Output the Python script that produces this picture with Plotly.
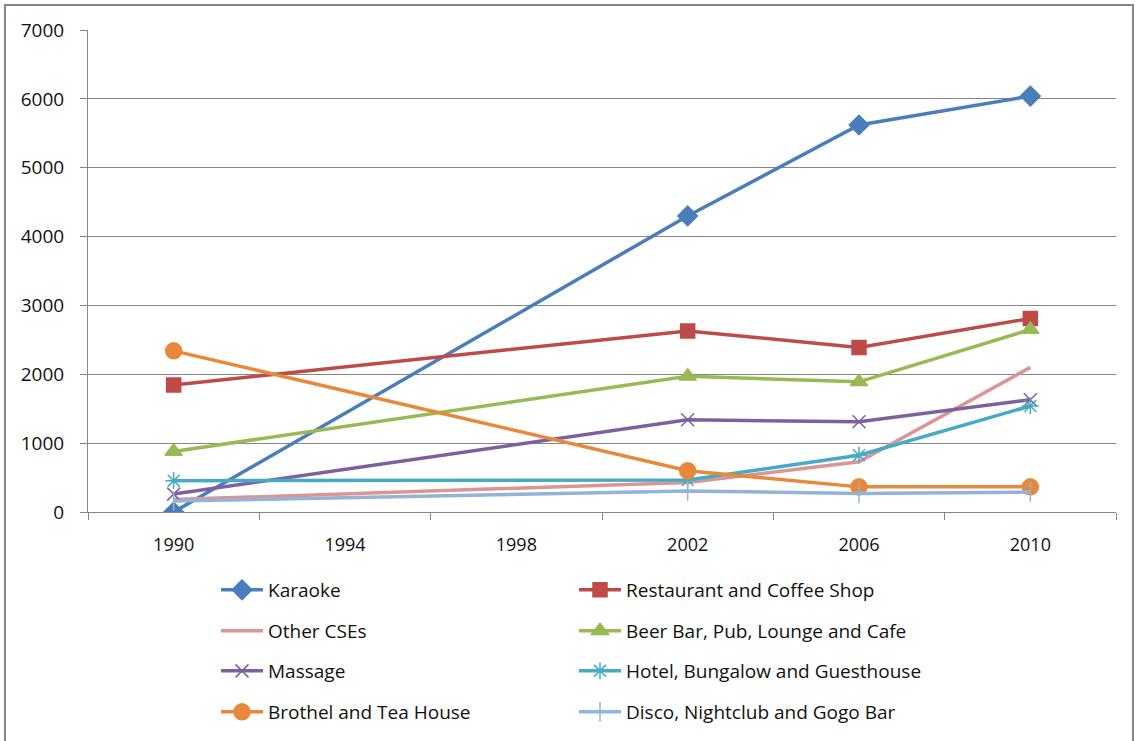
import plotly.graph_objects as go

years = [1990, 2002, 2006, 2010]
tick_years = [1990, 1994, 1998, 2002, 2006, 2010]

karaoke = [0, 4300, 5620, 6040]
restaurant = [1845, 2630, 2390, 2810]
other_cses = [180, 430, 730, 2100]
beer_bar = [880, 1970, 1890, 2650]
massage = [260, 1340, 1310, 1630]
hotel = [455, 465, 825, 1540]
brothel = [2340, 600, 365, 365]
disco = [160, 305, 270, 290]

series = [
    ("Karaoke", karaoke, "#4A7EBB", "diamond", 15, "legend"),
    ("Restaurant and Coffee Shop", restaurant, "#BE4B48", "square", 14, "legend"),
    ("Other CSEs", other_cses, "#D99694", None, 0, "legend2"),
    ("Beer Bar, Pub, Lounge and Cafe", beer_bar, "#98B954", "triangle-up", 15, "legend2"),
    ("Massage", massage, "#7D60A0", "x-thin-open", 13, "legend3"),
    ("Hotel, Bungalow and Guesthouse", hotel, "#46AAC5", "asterisk-open", 14, "legend3"),
    ("Brothel and Tea House", brothel, "#E8883A", "circle", 16, "legend4"),
    ("Disco, Nightclub and Gogo Bar", disco, "#95B3D7", "line-ns-open", 14, "legend4"),
]

fig = go.Figure()
for name, vals, color, sym, size, lg in series:
    if sym is None:
        mode = "lines"
        marker = None
    else:
        mode = "lines+markers"
        marker = dict(symbol=sym, size=size, color=color,
                      line=dict(color=color, width=1.5))
    fig.add_trace(go.Scatter(
        x=years, y=vals, name=name, mode=mode,
        line=dict(color=color, width=3.5),
        marker=marker, legend=lg,
    ))

W, H = 1138, 741
L, R, T, B = 88, 22, 30, 228
pw, ph = W - L - R, H - T - B

def px(x):
    return (x - L) / pw

def py(y):
    return (H - B - y) / ph

def row_legend(yc):
    return dict(x=px(216), y=py(yc), xanchor="left", yanchor="middle",
                orientation="h", entrywidth=301, entrywidthmode="pixels",
                itemwidth=42, font=dict(size=19), bgcolor="rgba(0,0,0,0)")

font = "Open Sans"
fig.update_layout(
    width=W, height=H,
    margin=dict(l=L, r=R, t=T, b=B),
    paper_bgcolor="white", plot_bgcolor="white",
    font=dict(family=font, size=18, color="#111111"),
    showlegend=True,
    legend=row_legend(590),
    legend2=row_legend(631),
    legend3=row_legend(671),
    legend4=row_legend(712),
    xaxis=dict(
        range=[1988, 2012], tickvals=tick_years,
        ticktext=[str(v) for v in tick_years],
        ticks="", showgrid=False, zeroline=False, automargin=False,
        showline=True, linecolor="#868686", linewidth=1,
        ticklabelstandoff=16, tickfont=dict(size=18),
        minor=dict(tick0=1988, dtick=4, ticks="outside", ticklen=7,
                   tickcolor="#868686", showgrid=False),
    ),
    yaxis=dict(
        range=[0, 7000], tickvals=list(range(0, 7001, 1000)),
        ticks="outside", ticklen=7, tickcolor="#868686", automargin=False,
        showgrid=True, gridcolor="#868686", gridwidth=1,
        zeroline=False, showline=True, linecolor="#868686", linewidth=1,
        tickfont=dict(size=19), ticklabelstandoff=12,
    ),
    shapes=[dict(type="rect", xref="paper", yref="paper",
                 x0=px(5), x1=px(1133), y0=py(5), y1=py(745),
                 line=dict(color="#868686", width=2), layer="below")],
)

fig.write_html("out.html")
